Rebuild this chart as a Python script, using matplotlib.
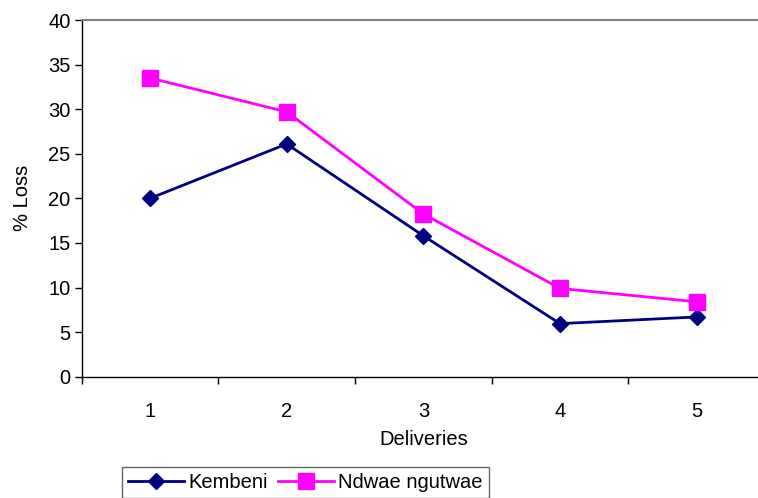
import numpy as np
import matplotlib.pyplot as plt
from matplotlib.ticker import FixedLocator

plt.rcParams['font.family'] = ['Liberation Sans', 'DejaVu Sans']

# data
deliveries = [1, 2, 3, 4, 5]
kembeni = [20.0, 26.1, 15.8, 5.95, 6.7]
ndwae = [33.5, 29.7, 18.25, 9.9, 8.4]
y_ticks = [0, 5, 10, 15, 20, 25, 30, 35, 40]

fig = plt.figure(figsize=(7.58, 4.98), dpi=100)
# plot area runs a little past the right edge, as in the original
ax = fig.add_axes([0.1078, 0.2436, 0.9014, 0.7162])

ax.plot(deliveries, kembeni, color='#000080', linewidth=2, marker='D',
        markersize=8, label='Kembeni')
ax.plot(deliveries, ndwae, color='#FF00FF', linewidth=2, marker='s',
        markersize=11, label='Ndwae ngutwae')

ax.set_xlim(0.5, 5.5)
ax.set_ylim(0, 40)
ax.set_yticks(y_ticks)
ax.set_xticks(deliveries)
ax.xaxis.set_minor_locator(FixedLocator(np.arange(0.5, 6.0, 1.0)))
ax.tick_params(axis='x', which='major', length=0, labelsize=14.5, pad=18)
ax.tick_params(axis='x', which='minor', length=5, width=1, direction='out')
ax.tick_params(axis='y', length=5, width=1, direction='out', labelsize=14.5, pad=3)

ax.spines['right'].set_visible(False)
ax.spines['top'].set_color('#808080')
ax.spines['top'].set_linewidth(1.5)
ax.spines['left'].set_linewidth(1)
ax.spines['bottom'].set_linewidth(1)

ax.set_xlabel('Deliveries', fontsize=14.5, labelpad=7)
ax.set_ylabel('% Loss', fontsize=14.5, labelpad=12)

leg = fig.legend(loc='lower left', bbox_to_anchor=(0.161, 0.0), ncol=2,
                 fontsize=14.5, frameon=True, fancybox=False, handlelength=2.8,
                 handletextpad=0.2, columnspacing=0.5, borderpad=0.3,
                 borderaxespad=0)
leg.get_frame().set_edgecolor('#404040')
leg.get_frame().set_linewidth(1)

fig.savefig('out.png', dpi=100)
